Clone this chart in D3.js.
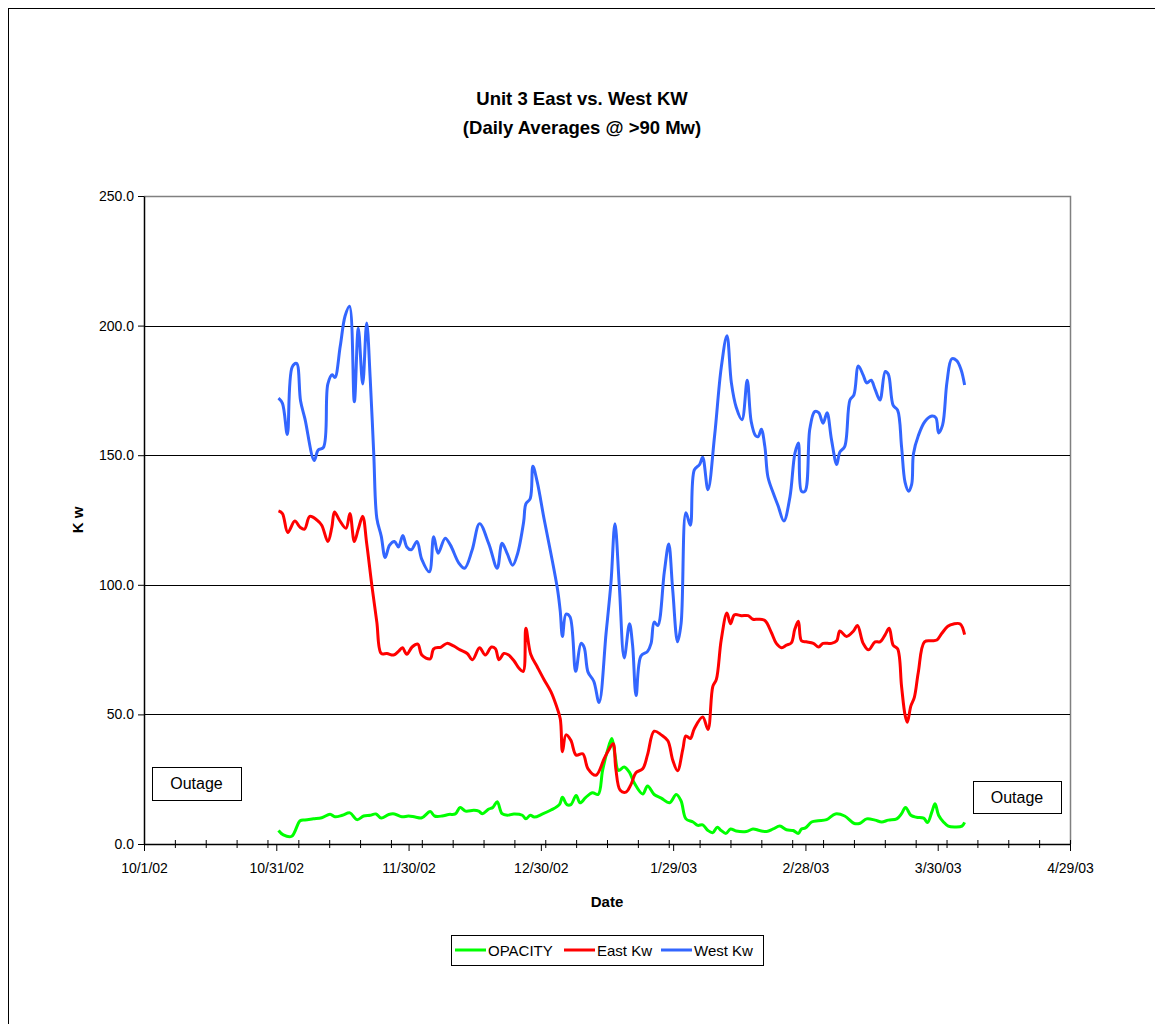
<!DOCTYPE html>
<html lang="en">
<head>
	<meta charset="UTF-8">
	<title>Unit 3 East vs. West KW</title>
	<script src="https://d3js.org/d3.v7.min.js"></script>
	<style>
		body { margin: 0; background: #fff; }
		text { font-family: Arial, "Liberation Sans", sans-serif; fill: #000; }
	</style>
</head>
<body>
<div id="chart"></div>
<script>
	// day = days after 10/1/02
	var opacity = [[30.5,5.2],[31.6,3.5],[33.5,3.0],[35.4,9.0],[36.5,9.3],[38.4,9.7],[40.3,10.1],[42.2,11.5],[43.3,10.5],[45,11.1],[46.7,12],[48.3,9.4],[49.8,10.8],[51.3,11.1],[52.6,11.6],[53.8,10],[55.5,11.4],[56.8,11.6],[58.5,10.5],[60,10.8],[61.5,10.4],[63,10.1],[64.9,12.5],[65.9,10.8],[67.6,10.8],[69.1,11.4],[70.6,11.6],[71.7,14.1],[72.9,12.7],[74.8,13],[75.9,12.7],[76.7,11.7],[78.2,13.5],[79.1,14.1],[80.1,16.3],[81.2,11.7],[82.4,11.1],[83.9,11.6],[85.8,11.1],[86.6,9.7],[87.6,11.1],[88.5,10.4],[90.4,11.6],[92.3,13.1],[94.2,15.2],[94.9,18],[95.9,15.2],[96.8,15.2],[98,18.7],[98.9,15.9],[100.2,18],[101.7,19.8],[103,19.1],[104,28.4],[105.1,36],[106.1,40.7],[106.8,34.5],[107.6,28.4],[108.9,29.7],[110.1,27.6],[111.2,23.5],[113.1,19.3],[114.2,22.4],[115.7,19.1],[117.3,17.7],[119.2,15.9],[120.7,19.1],[121.8,16.6],[122.9,9.7],[124.5,8.5],[125.6,7.2],[126.7,7.4],[127.9,5.2],[129,4.4],[130,6.5],[130.9,5.2],[132,4.1],[133,5.8],[134.3,5],[136.6,4.8],[138.1,5.8],[139.6,5.2],[141.2,4.8],[142.7,5.8],[144.2,6.9],[145.7,5.5],[147.2,5.2],[148.4,4.1],[149.1,5.8],[150,6.2],[151.4,8.5],[152.9,9],[154.8,9.4],[156.8,11.6],[158.9,10.8],[161.1,7.9],[162.4,8],[163.9,9.7],[165.8,9.2],[167.3,8.5],[168.8,9.2],[170.7,9.7],[171.8,11.7],[172.7,14.1],[173.9,11.1],[175.2,10.3],[176.8,10],[177.7,8.3],[178.7,12.5],[179.4,15.5],[180.2,11.1],[181.3,8.5],[182.4,6.9],[183.9,6.6],[185.5,6.9],[186.1,8.3]];

	var eastKw = [[30.5,128.5],[31.4,127.5],[32.6,120.2],[34.2,124.6],[35.4,122.2],[36.4,121.5],[37.6,126.4],[39.2,125],[40.3,123],[41.7,116.7],[42.6,122.2],[43.2,128.1],[44.3,125],[45.8,121.8],[46.7,127.5],[47.7,116.7],[48.6,121.5],[49.6,126.4],[50.5,116],[51.7,99.4],[52.8,85.6],[53.8,73.5],[55.1,73.5],[56.6,72.9],[57.7,74.3],[58.6,75.7],[59.6,73.2],[60.8,76],[62.1,77.1],[63,72.9],[64.9,71.4],[65.7,75.3],[67.4,76],[68.7,77.4],[70.2,76.4],[71.7,74.9],[73.3,73.5],[74.5,71.1],[76.1,75.7],[77.4,72.9],[78.8,76],[79.7,75.3],[80.5,71.1],[81.6,73.5],[82.6,73],[83.9,70.7],[85.1,67.7],[86,66.6],[86.6,83.2],[87.7,73.2],[89.2,68.3],[90.7,63.5],[92.3,58.7],[93.4,53.9],[94.4,48.3],[94.9,35.6],[95.7,42.1],[96.8,40],[98,34.3],[99.5,34.8],[100.7,29],[102.5,26.5],[104.4,33.1],[105.5,36.6],[106.4,38.7],[107,29],[108,20.7],[109.3,20],[110.4,22.8],[111.6,27.6],[113.1,29],[114.2,34.5],[115.7,43.5],[117.3,42.1],[118.8,39.8],[119.9,32.4],[121,28.3],[122.2,36.6],[122.9,41.7],[123.9,40.7],[124.8,44.5],[126.7,49],[127.9,44.2],[129,60.8],[129.8,63.5],[130.9,78.7],[132.2,89.1],[133,85],[133.9,88.4],[135.5,88.1],[137,88.1],[138.1,86.7],[139.3,86.7],[140.8,86.2],[142.3,81.5],[143.4,77.4],[144.6,75.7],[145.7,76.7],[146.8,77.6],[147.6,82.9],[148.4,85.9],[149.1,78.4],[150.2,78],[151.8,77.4],[153,76],[154,77.4],[155.9,77.4],[157.1,78.4],[157.8,82.2],[159.3,80.1],[160.9,82.2],[161.8,84.3],[163.1,77.4],[164.3,74.9],[165.8,78],[166.9,78],[168.1,80.8],[169,83.2],[169.9,76.7],[170.9,75.3],[171.8,60.8],[172.6,49.7],[173.1,47],[173.9,53.2],[174.7,56.6],[175.6,66.3],[177,78],[178.7,78.4],[179.8,78.7],[180.9,81.2],[182.3,84],[183.6,84.9],[185.1,84.9],[186.1,80.8]];

	var westKw = [[30.5,172],[31.4,170],[32.5,158],[33.6,184],[34.6,185.4],[35.5,171],[36.5,164],[38.6,148],[39.5,152],[40.7,153],[41.7,177.5],[42.7,181],[43.3,180],[44.5,192],[45.6,203.7],[46.6,207.5],[47.7,170.6],[48.6,199],[49.6,177.5],[50.5,201],[51.3,179.6],[52.1,150.6],[52.8,125.7],[53.8,118.8],[54.7,110.5],[55.7,115.3],[56.8,116.7],[57.7,114.6],[58.7,119],[59.6,114.6],[60.6,113.5],[61.9,116.7],[63,109.8],[64.7,105],[65.7,118.5],[66.7,112.2],[68.3,118],[69.5,115.3],[71.4,108.4],[72.7,106.4],[74.4,113.3],[76.1,123.6],[78.2,115.8],[80.1,106.4],[81.2,116],[82.4,111.9],[83.6,107.5],[84.7,111.9],[86.1,124.3],[86.6,131.2],[87.6,133.3],[88.2,145.7],[89.2,139.5],[90.7,125.7],[92.3,111.9],[93.8,98],[94.4,89.8],[94.9,80.1],[95.7,88.7],[96.6,87.7],[97.9,66.6],[99.1,77.4],[99.8,76],[100.7,66.3],[102,62.8],[103.2,54.6],[104.8,81.5],[105.9,100.8],[106.8,123.6],[107.8,99.4],[108.9,71.8],[110.1,85],[110.8,76.7],[111.6,57.3],[112.7,72.5],[114.2,74.3],[115,77.4],[115.7,85.6],[116.5,84.3],[118,105],[119,115.7],[119.9,98],[121,78],[121.8,85],[122.9,127.8],[123.9,123],[124.8,144.3],[126,146.4],[126.7,149.2],[127.9,136.7],[129.4,157.5],[130.9,183.7],[132.2,196.1],[133.2,178],[134.3,168.5],[135.6,163.7],[136.8,178.9],[137.7,163],[138.7,157.5],[139.3,157.2],[140,160],[140.8,153.3],[141.5,141.6],[142.7,135.4],[143.8,130.5],[145.1,124.6],[146.5,134],[147.6,150.6],[148.4,154.7],[149.1,136.1],[149.9,136.1],[151,160.2],[152.1,166.8],[153,166.4],[154,162.3],[154.9,166.4],[155.9,156.1],[157.1,146.4],[157.8,151.2],[158.9,153.3],[160.1,171.3],[161,173.3],[162,184.4],[163.1,180.9],[163.9,177.9],[164.9,178.9],[165.8,175.4],[166.9,171.3],[168.1,182.3],[168.8,181.2],[169.9,169.2],[170.9,167.4],[171.8,153.3],[172.6,139.5],[173.4,136.1],[174.1,138.8],[174.5,150.6],[175.6,157.5],[177.1,163],[178.7,165.1],[179.6,164.4],[180.2,158.6],[181.1,161.6],[182.1,178.2],[183.2,187.2],[184.3,186.5],[185.3,183],[186.1,177.1]];

	var xTickDays = [0, 30, 60, 90, 120, 150, 180, 210];
	var xTickLabels = ["10/1/02", "10/31/02", "11/30/02", "12/30/02", "1/29/03", "2/28/03", "3/30/03", "4/29/03"];
	var yTicks = [0, 50, 100, 150, 200, 250];
	var seriesNames = ["OPACITY", "East Kw", "West Kw"];
	var seriesColors = ["#00ff00", "#ff0000", "#3366ff"];

	var W = 1155, H = 1024;
	var plotL = 144, plotR = 1070, plotT = 196, plotB = 844;

	var svg = d3.select('#chart').append('svg')
		.attr('width', W).attr('height', H);

	// outer chart border
	svg.append('rect')
		.attr('x', 8.5).attr('y', 8.5)
		.attr('width', W).attr('height', H + 20)
		.attr('fill', 'none').attr('stroke', '#000').attr('stroke-width', 1);

	var x = d3.scaleLinear().domain([0, 210]).range([plotL, plotR]);
	var y = d3.scaleLinear().domain([0, 250]).range([plotB, plotT]);

	// plot frame (top/right grey)
	svg.append('path')
		.attr('d', 'M' + plotL + ',' + (plotT + 0.5) + 'H' + (plotR + 0.5) + 'V' + plotB)
		.attr('fill', 'none').attr('stroke', '#808080').attr('stroke-width', 1.5);

	// gridlines
	svg.selectAll('.grid').data(yTicks.filter(function(d){ return d > 0 && d < 250; }))
		.enter().append('line')
		.attr('x1', plotL).attr('x2', plotR)
		.attr('y1', function(d){ return Math.round(y(d)) + 0.5; })
		.attr('y2', function(d){ return Math.round(y(d)) + 0.5; })
		.attr('stroke', '#000').attr('stroke-width', 1);

	// y axis
	var yAxis = svg.append('g')
		.attr('transform', 'translate(' + plotL + ',0)')
		.call(d3.axisLeft(y).tickValues(yTicks).tickFormat(d3.format('.1f')).tickSize(6).tickSizeOuter(0).tickPadding(4));
	yAxis.selectAll('text').style('font-size', '14px');
	yAxis.select('.domain').attr('stroke-width', 1.5);

	// x axis: weekly minor ticks crossing the axis
	var minorDays = d3.range(0, 211, 7);
	svg.append('g').attr('transform', 'translate(0,' + plotB + ')')
		.call(d3.axisBottom(x).tickValues(minorDays).tickSize(4).tickSizeOuter(0).tickFormat(''))
		.select('.domain').remove();
	svg.append('g').attr('transform', 'translate(0,' + plotB + ')')
		.call(d3.axisTop(x).tickValues(minorDays).tickSize(4).tickSizeOuter(0).tickFormat(''))
		.select('.domain').remove();

	var xAxis = svg.append('g')
		.attr('transform', 'translate(0,' + plotB + ')')
		.call(d3.axisBottom(x).tickValues(xTickDays)
			.tickFormat(function(d, i){ return xTickLabels[i]; })
			.tickSize(7).tickSizeOuter(0).tickPadding(12));
	xAxis.selectAll('text').style('font-size', '14px');
	xAxis.select('.domain').attr('stroke-width', 1.5);

	// series
	var line = d3.line()
		.x(function(d){ return x(d[0]); })
		.y(function(d){ return y(d[1]); })
		.curve(d3.curveCatmullRom.alpha(0.5));

	[opacity, eastKw, westKw].forEach(function(s, i){
		svg.append('path').datum(s)
			.attr('d', line)
			.attr('fill', 'none')
			.attr('stroke', seriesColors[i])
			.attr('stroke-width', 3)
			.attr('stroke-linejoin', 'round');
	});

	// titles
	svg.append('text').attr('x', 582).attr('y', 105).attr('text-anchor', 'middle')
		.style('font-size', '18.5px').style('font-weight', 'bold').text('Unit 3 East vs. West KW');
	svg.append('text').attr('x', 582).attr('y', 134).attr('text-anchor', 'middle')
		.style('font-size', '18.5px').style('font-weight', 'bold').text('(Daily Averages @ >90 Mw)');
	svg.append('text').attr('x', 607).attr('y', 907).attr('text-anchor', 'middle')
		.style('font-size', '15px').style('font-weight', 'bold').text('Date');
	svg.append('text').attr('transform', 'translate(83,520) rotate(-90)').attr('text-anchor', 'middle')
		.style('font-size', '15px').style('font-weight', 'bold').text('K w');

	// outage labels
	var outages = [{x: 152, y: 767, w: 89, h: 33}, {x: 973, y: 781, w: 88, h: 32}];
	outages.forEach(function(o){
		svg.append('rect').attr('x', o.x + 0.5).attr('y', o.y + 0.5)
			.attr('width', o.w).attr('height', o.h)
			.attr('fill', '#fff').attr('stroke', '#000').attr('stroke-width', 1);
		svg.append('text').attr('x', o.x + o.w / 2).attr('y', o.y + o.h / 2 + 5.5)
			.attr('text-anchor', 'middle').style('font-size', '16px').text('Outage');
	});

	// legend
	var leg = svg.append('g');
	leg.append('rect').attr('x', 451.5).attr('y', 935.5).attr('width', 312).attr('height', 30)
		.attr('fill', '#fff').attr('stroke', '#000').attr('stroke-width', 1);
	var legX = [455, 564, 661];
	seriesNames.forEach(function(n, i){
		leg.append('line').attr('x1', legX[i]).attr('x2', legX[i] + 31)
			.attr('y1', 950).attr('y2', 950)
			.attr('stroke', seriesColors[i]).attr('stroke-width', 3);
		leg.append('text').attr('x', legX[i] + 33).attr('y', 956)
			.style('font-size', '15px').text(n);
	});
</script>
</body>
</html>
